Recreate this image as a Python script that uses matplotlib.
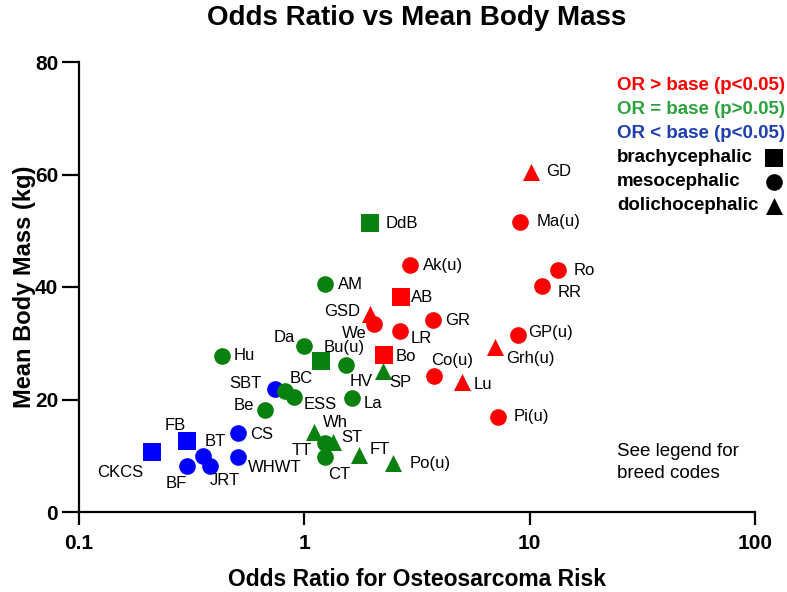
import matplotlib
matplotlib.use("Agg")
import matplotlib.pyplot as plt
from matplotlib.ticker import NullLocator

plt.rcParams["font.family"] = ["Liberation Sans", "DejaVu Sans"]

# breed codes, drawn in this order (blue, red, green)
breeds = ["SBT", "CKCS", "FB", "BT", "JRT", "BF", "CS", "WHWT",
          "GD", "Ma(u)", "Ak(u)", "AB", "GSD", "We", "LR", "GR", "Bo",
          "Co(u)", "Lu", "Grh(u)", "GP(u)", "Ro", "RR", "Pi(u)",
          "DdB", "AM", "Hu", "Da", "Bu(u)", "HV", "SP", "La", "BC", "ESS",
          "Be", "Wh", "TT", "ST", "CT", "FT", "Po(u)"]
odds_ratio = [0.74, 0.21, 0.30, 0.355, 0.38, 0.30, 0.51, 0.51,
              10.1, 9.1, 2.94, 2.69, 1.96, 2.04, 2.65, 3.73, 2.25,
              3.76, 4.99, 7.0, 8.9, 13.4, 11.3, 7.2,
              1.96, 1.24, 0.43, 1.0, 1.18, 1.53, 2.24, 1.63, 0.82, 0.90,
              0.67, 1.10, 1.23, 1.34, 1.24, 1.75, 2.48]
body_mass = [21.8, 10.6, 12.7, 10.0, 8.2, 8.2, 14.0, 9.7,
             60.5, 51.6, 43.9, 38.2, 35.2, 33.5, 32.2, 34.1, 28.0,
             24.1, 23.2, 29.4, 31.5, 43.0, 40.1, 16.9,
             51.3, 40.5, 27.8, 29.6, 26.8, 26.1, 25.1, 20.3, 21.5, 20.5,
             18.1, 14.3, 12.2, 12.5, 9.7, 10.1, 8.7]
risk_group = ["low"] * 8 + ["high"] * 16 + ["same"] * 17
skull_type = ["meso", "brachy", "brachy", "meso", "meso", "meso", "meso", "meso",
              "dolicho", "meso", "meso", "brachy", "dolicho", "meso", "meso", "meso", "brachy",
              "meso", "dolicho", "dolicho", "meso", "meso", "meso", "meso",
              "brachy", "meso", "meso", "meso", "brachy", "meso", "dolicho", "meso", "meso", "meso",
              "meso", "dolicho", "meso", "dolicho", "meso", "dolicho", "dolicho"]

legend_groups = ["OR > base (p<0.05)", "OR = base (p>0.05)", "OR < base (p<0.05)"]
legend_shapes = ["brachycephalic", "mesocephalic", "dolichocephalic"]

COLORS = {"high": "#ff0000", "same": "#0a800f", "low": "#0000ff"}
MARKERS = {"brachy": "s", "meso": "o", "dolicho": "^"}
SIZES = {"brachy": 150, "meso": 144, "dolicho": 150}
LEGEND_COLORS = ["#ff0000", "#2ca33c", "#1f3fb0"]

# label placement in pixels from the marker centre (dx right, dy down), alignment
LABEL_POS = {
    "GD": (15, 0, "left"), "Ma(u)": (16, 0, "left"), "Ak(u)": (13, 0, "left"),
    "AB": (10, 0, "left"), "GSD": (-10, -3, "right"), "We": (-7, 10, "right"),
    "LR": (11, 8, "left"), "GR": (12, 0, "left"), "Bo": (12, 2, "left"),
    "Co(u)": (-3, -16, "left"), "Lu": (12, 3, "left"), "Grh(u)": (11, 12, "left"),
    "GP(u)": (10, -2, "left"), "Ro": (15, 0, "left"), "RR": (16, 6, "left"),
    "Pi(u)": (16, 0, "left"), "DdB": (15, 0, "left"), "AM": (13, 0, "left"),
    "Hu": (12, 0, "left"), "Da": (-9, -8, "right"), "Bu(u)": (3, -14, "left"),
    "HV": (4, 16, "left"), "SP": (6, 12, "left"), "La": (11, 6, "left"),
    "BC": (5, -13, "left"), "ESS": (10, 8, "left"), "Be": (-11, -5, "right"),
    "Wh": (9, -9, "left"), "TT": (-13, 7, "right"), "ST": (8, -4, "left"),
    "CT": (3, 17, "left"), "FT": (11, -6, "left"), "Po(u)": (16, 0, "left"),
    "SBT": (-13, -6, "right"), "CKCS": (-8, 20, "right"), "FB": (-1, -15, "right"),
    "BT": (2, -14, "left"), "JRT": (0, 15, "left"), "BF": (0, 18, "right"),
    "CS": (12, 1, "left"), "WHWT": (9, 10, "left"),
}

fig = plt.figure(figsize=(7.87, 5.92), dpi=100)
ax = fig.add_axes([79 / 787, 1 - 512 / 592, 676 / 787, 450 / 592])

for i, name in enumerate(breeds):
    ax.scatter(odds_ratio[i], body_mass[i], s=SIZES[skull_type[i]],
               marker=MARKERS[skull_type[i]], color=COLORS[risk_group[i]],
               linewidths=0, zorder=3, clip_on=False)
    dx, dy, ha = LABEL_POS[name]
    ax.annotate(name, (odds_ratio[i], body_mass[i]), xytext=(dx * 0.72, -dy * 0.72),
                textcoords="offset points", ha=ha, va="center", fontsize=12,
                zorder=4)

ax.set_xscale("log")
ax.set_xlim(0.1, 100)
ax.set_ylim(0, 80)
ax.set_xticks([0.1, 1, 10, 100])
ax.set_xticklabels(["0.1", "1", "10", "100"])
ax.xaxis.set_minor_locator(NullLocator())
ax.set_yticks([0, 20, 40, 60, 80])

for side in ["top", "right"]:
    ax.spines[side].set_visible(False)
for side in ["left", "bottom"]:
    ax.spines[side].set_linewidth(1.6)
ax.tick_params(axis="x", length=9.5, width=1.6, labelsize=15, pad=6)
ax.tick_params(axis="y", length=12, width=1.6, labelsize=15, pad=3)
for lbl in ax.get_xticklabels() + ax.get_yticklabels():
    lbl.set_fontweight("bold")

ax.set_xlabel("Odds Ratio for Osteosarcoma Risk", fontsize=16.5, fontweight="bold", labelpad=11)
ax.set_ylabel("Mean Body Mass (kg)", fontsize=17, fontweight="bold", labelpad=-1)
fig.text(417 / 787, 1 - 18 / 592, "Odds Ratio vs Mean Body Mass", ha="center", va="center",
         fontsize=20, fontweight="bold")

# hand made legend
leg_x = (617 - 79) / 676
leg_y = [(512 - y) / 450 for y in [85, 109, 133, 158, 182, 206]]
for j, txt in enumerate(legend_groups):
    ax.text(leg_x, leg_y[j], txt, transform=ax.transAxes, color=LEGEND_COLORS[j],
            fontsize=13.5, fontweight="bold", va="center", ha="left")
for j, txt in enumerate(legend_shapes):
    ax.text(leg_x, leg_y[j + 3], txt, transform=ax.transAxes, color="black",
            fontsize=13.5, fontweight="bold", va="center", ha="left")
    key = ["brachy", "meso", "dolicho"][j]
    ax.scatter((774 - 79) / 676, leg_y[j + 3], s=SIZES[key], marker=MARKERS[key],
               color="black", linewidths=0, transform=ax.transAxes, clip_on=False)

ax.text(leg_x, (512 - 451) / 450, "See legend for", transform=ax.transAxes,
        fontsize=13.5, va="center", ha="left")
ax.text(leg_x, (512 - 474) / 450, "breed codes", transform=ax.transAxes,
        fontsize=13.5, va="center", ha="left")

fig.savefig("out.png", dpi=100)
